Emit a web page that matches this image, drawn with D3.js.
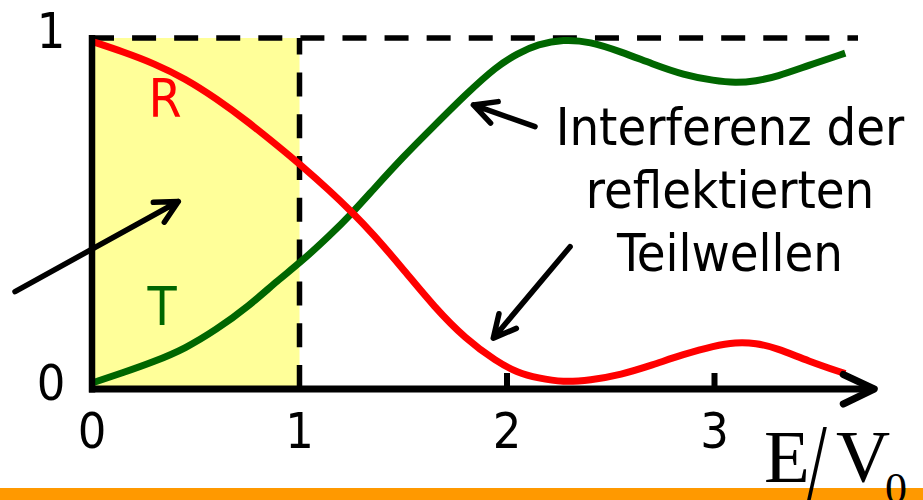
<!DOCTYPE html>
<html>
<head>
<meta charset="utf-8">
<script src="https://cdn.jsdelivr.net/npm/d3@7"></script>
<style>
  html, body { margin: 0; padding: 0; background: #ffffff; }
  svg { display: block; }
  .sans { font-family: "DejaVu Sans Condensed", "DejaVu Sans", sans-serif; font-stretch: condensed; }
  .serif { font-family: "Liberation Serif", "Times New Roman", serif; }
</style>
</head>
<body>
<svg id="chart" width="923" height="500"></svg>
<script>
// Energy in units of the barrier height, E/V0
const energy = [0, 0.15, 0.3, 0.45, 0.6, 0.75, 0.9, 1.0, 1.15, 1.25, 1.35, 1.5, 1.65, 1.8, 1.95,
                2.05, 2.15, 2.27, 2.4, 2.55, 2.7, 2.85, 3.0, 3.1, 3.2, 3.3, 3.45, 3.63];
// Transmission coefficient T
const transmission = [0, 0.03, 0.062, 0.10, 0.155, 0.22, 0.30, 0.347, 0.43, 0.49, 0.557, 0.656, 0.746, 0.836, 0.918,
                      0.955, 0.982, 0.996, 0.99, 0.96, 0.925, 0.893, 0.876, 0.870, 0.875, 0.888, 0.92, 0.956];
// Reflection coefficient R
const reflection = [0.99, 0.96, 0.926, 0.882, 0.824, 0.758, 0.685, 0.635, 0.555, 0.497, 0.435, 0.33, 0.22, 0.128, 0.062,
                    0.03, 0.014, 0.002, 0.008, 0.024, 0.052, 0.083, 0.108, 0.118, 0.116, 0.101, 0.064, 0.027];
const xTicks = [0, 1, 2, 3];
const yTicks = [0, 1];
const noteLines = ["Interferenz der", "reflektierten", "Teilwellen"];

const svg = d3.select("#chart");
const x = d3.scaleLinear().domain([0, 1]).range([92, 299.5]);
const y = d3.scaleLinear().domain([0, 1]).range([383, 38]);
const axisY = y(0) + 6;   // axis line sits just under the zero level
const xEnd = 3.77;        // arrow tip of the energy axis

// bottom stripe
svg.append("rect").attr("x", 0).attr("y", 488).attr("width", 923).attr("height", 12).attr("fill", "#ff9900");

// tunnelling region E < V0
svg.append("rect")
  .attr("x", x(0)).attr("y", y(1))
  .attr("width", x(1) - x(0)).attr("height", axisY - y(1))
  .attr("fill", "#ffff99");

// dashed guide lines: T = 1 and E = V0
svg.append("line")
  .attr("x1", x(0) - 2).attr("x2", 858).attr("y1", y(1)).attr("y2", y(1))
  .attr("stroke", "#000").attr("stroke-width", 5.5).attr("stroke-dasharray", "24,18.08");
svg.append("line")
  .attr("x1", x(1)).attr("x2", x(1)).attr("y1", axisY).attr("y2", y(1))
  .attr("stroke", "#000").attr("stroke-width", 5.5).attr("stroke-dasharray", "24,17.8");

// curves
const line = d3.line().curve(d3.curveBasis);
const tPts = energy.map((e, i) => [x(e), y(transmission[i])]);
const rPts = energy.map((e, i) => [x(e), y(reflection[i])]);
svg.append("path").attr("d", line(tPts)).attr("fill", "none").attr("stroke", "#006600").attr("stroke-width", 7);
svg.append("path").attr("d", line(rPts)).attr("fill", "none").attr("stroke", "#ff0000").attr("stroke-width", 7);

// axes
svg.append("line").attr("x1", x(0)).attr("x2", x(0)).attr("y1", y(1) - 3).attr("y2", axisY + 3.5)
  .attr("stroke", "#000").attr("stroke-width", 6.5);
svg.append("line").attr("x1", x(0) - 3).attr("x2", x(xEnd)).attr("y1", axisY).attr("y2", axisY)
  .attr("stroke", "#000").attr("stroke-width", 7);
svg.append("path")
  .attr("d", `M${x(xEnd) - 31},${axisY - 14.5}L${x(xEnd)},${axisY}L${x(xEnd) - 31},${axisY + 15}`)
  .attr("fill", "none").attr("stroke", "#000").attr("stroke-width", 7)
  .attr("stroke-linecap", "round").attr("stroke-linejoin", "round");
svg.selectAll(".tick").data(xTicks.filter(t => t >= 2)).enter().append("line")
  .attr("x1", d => x(d)).attr("x2", d => x(d)).attr("y1", axisY - 16).attr("y2", axisY)
  .attr("stroke", "#000").attr("stroke-width", 6);

// tick labels
svg.selectAll(".xl").data(xTicks).enter().append("text")
  .attr("class", "sans").attr("x", d => x(d)).attr("y", 448)
  .attr("text-anchor", "middle").attr("font-size", 50).text(d => d);
svg.selectAll(".yl").data(yTicks).enter().append("text")
  .attr("class", "sans").attr("x", 51).attr("y", d => d === 1 ? 48 : 400)
  .attr("text-anchor", "middle").attr("font-size", 50).text(d => d);

// curve names
svg.append("text").attr("class", "sans").attr("x", 165).attr("y", 117)
  .attr("text-anchor", "middle").attr("font-size", 53).attr("fill", "#ff0000").text("R");
svg.append("text").attr("class", "sans").attr("x", 162).attr("y", 325)
  .attr("text-anchor", "middle").attr("font-size", 53).attr("fill", "#006600").text("T");

// annotation arrows (data coordinates)
function arrow(x0, y0, x1, y1, w) {
  const ax = x(x0), ay = y(y0), bx = x(x1), by = y(y1);
  const ang = Math.atan2(ay - by, ax - bx);
  const len = 25, spread = 27 * Math.PI / 180;
  const w1 = [bx + len * Math.cos(ang + spread), by + len * Math.sin(ang + spread)];
  const w2 = [bx + len * Math.cos(ang - spread), by + len * Math.sin(ang - spread)];
  svg.append("path")
    .attr("d", `M${ax},${ay}L${bx},${by}M${w1[0]},${w1[1]}L${bx},${by}L${w2[0]},${w2[1]}`)
    .attr("fill", "none").attr("stroke", "#000").attr("stroke-width", w)
    .attr("stroke-linecap", "round").attr("stroke-linejoin", "round");
}
arrow(-0.371, 0.265, 0.416, 0.526, 5.5);
arrow(2.135, 0.743, 1.838, 0.806, 5.5);
arrow(2.304, 0.395, 1.934, 0.130, 5.5);

// annotation text
svg.selectAll(".note").data(noteLines).enter().append("text")
  .attr("class", "sans").attr("x", 730).attr("y", (d, i) => 145 + i * 63)
  .attr("text-anchor", "middle").attr("font-size", 52).text(d => d);

// axis title E/V0
const title = svg.append("g").attr("class", "serif").attr("fill", "#000");
title.append("text").attr("x", 764).attr("y", 482).attr("font-size", 75).text("E");
title.append("text").attr("transform", "translate(806,503.5) scale(1,1.55)").attr("font-size", 75).text("/");
title.append("text").attr("x", 836).attr("y", 482).attr("font-size", 75).text("V");
title.append("text").attr("x", 885).attr("y", 503).attr("font-size", 44).text("0");
</script>
</body>
</html>
